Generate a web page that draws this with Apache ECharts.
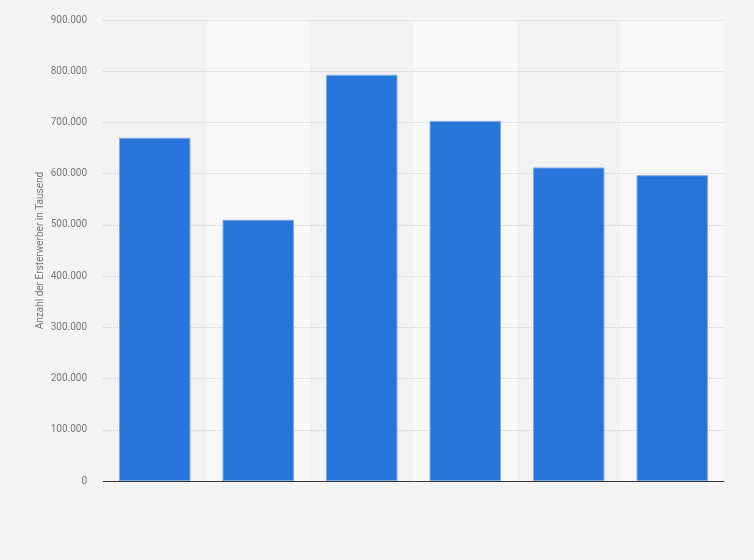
<!DOCTYPE html>
<html>
<head>
<meta charset="utf-8">
<script src="https://cdn.jsdelivr.net/npm/echarts@6/dist/echarts.min.js"></script>
<style>html,body{margin:0;padding:0;background:#f4f4f4;}#c{width:754px;height:560px;}</style>
</head>
<body>
<div id="c"></div>
<script>
const categories = ['1', '2', '3', '4', '5', '6'];
const values = [670000, 510000, 793000, 703000, 612000, 597000];
const yTicks = { min: 0, max: 900000, interval: 100000 };
const yAxisTitle = 'Anzahl der Ersterwerber in Tausend';

const chart = echarts.init(document.getElementById('c'));
chart.setOption({
  backgroundColor: '#f4f4f4',
  animation: false,
  grid: { left: 103, right: 30, top: 20, bottom: 79 },
  xAxis: [{
    type: 'category',
    data: categories,
    z: 0,
    axisLine: { show: false },
    axisTick: { show: false },
    axisLabel: { show: false },
    splitArea: { show: true, areaStyle: { color: ['#f2f2f2', '#f8f8f8'] } }
  }, {
    type: 'category',
    data: categories,
    position: 'bottom',
    z: 3,
    axisLine: { show: true, lineStyle: { color: '#333', width: 1 } },
    axisTick: { show: false },
    axisLabel: { show: false },
    splitLine: { show: false },
    splitArea: { show: false }
  }],
  yAxis: {
    type: 'value',
    z: 1,
    min: yTicks.min, max: yTicks.max, interval: yTicks.interval,
    name: yAxisTitle,
    nameLocation: 'middle',
    nameGap: 58,
    nameMoveOverlap: false,
    nameTextStyle: { color: '#777', fontSize: 10, fontFamily: 'Roboto' },
    axisLine: { show: false },
    axisTick: { show: false },
    axisLabel: {
      color: '#777', fontSize: 10, fontFamily: 'Roboto', margin: 16,
      formatter: v => v === 0 ? '0' : v.toLocaleString('de-DE')
    },
    splitLine: { lineStyle: { color: '#d0d0d0', type: 'dotted', width: 1 } }
  },
  series: [{
    type: 'bar',
    data: values,
    z: 2,
    barCategoryGap: '31%',
    itemStyle: { color: '#2775d9', borderColor: '#7aa9ea', borderWidth: 1 }
  }]
});
</script>
</body>
</html>
